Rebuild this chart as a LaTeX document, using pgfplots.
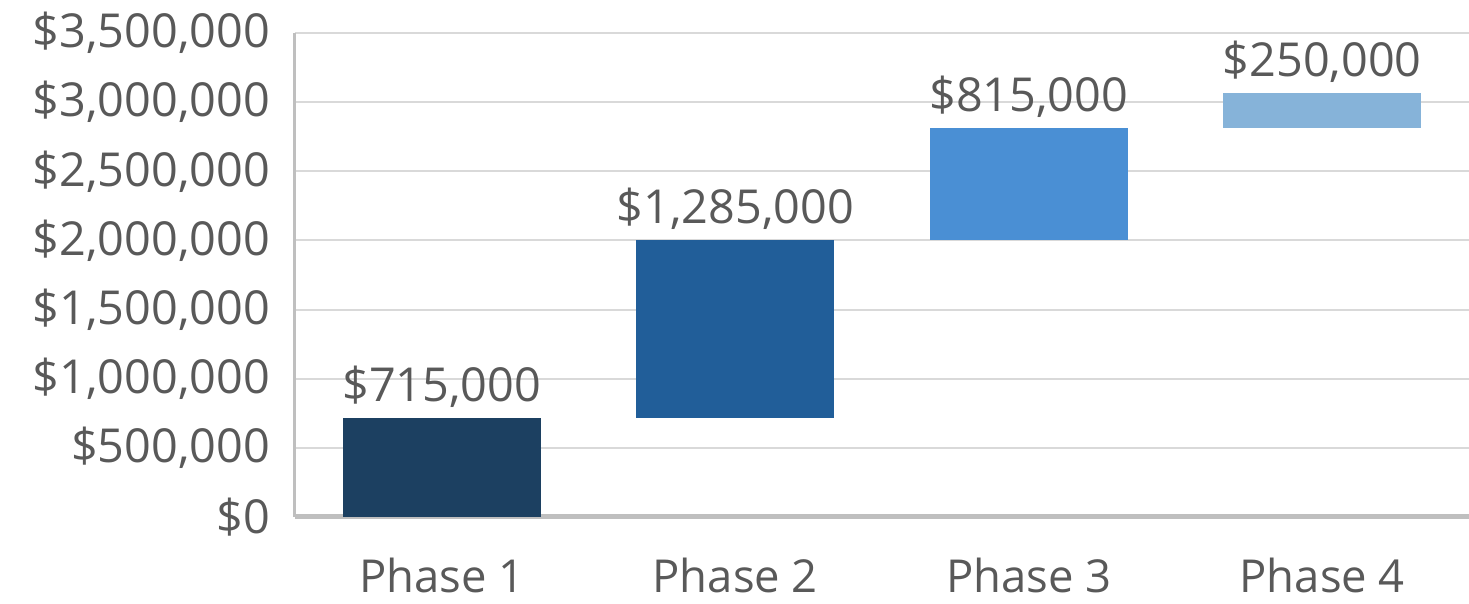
\documentclass[border=0pt]{standalone}
\usepackage{pgfplots}
\pgfplotsset{compat=1.18}
\usepackage{fontspec}
\setmainfont{Open Sans}
\definecolor{txt}{HTML}{595959}
\definecolor{gridc}{HTML}{D9D9D9}
\definecolor{axc}{HTML}{BFBFBF}
\definecolor{cA}{HTML}{1C4061}
\definecolor{cB}{HTML}{215E99}
\definecolor{cC}{HTML}{4A8FD4}
\definecolor{cD}{HTML}{86B3D9}
\begin{document}
\begin{tikzpicture}
\path[use as bounding box] (-147.5pt,-43.5pt) rectangle (587pt,258.5pt);
\begin{axis}[
  at={(0,0)}, anchor=south west,
  scale only axis, width=587pt, height=242pt,
  ybar stacked, bar width=0.673,
  xmin=-0.5, xmax=3.5, ymin=0, ymax=3500000,
  xtick={0,1,2,3}, xticklabels={Phase 1,Phase 2,Phase 3,Phase 4},
  ytick={0,500000,1000000,1500000,2000000,2500000,3000000,3500000},
  yticklabels={{\$0},{\$500,000},{\$1,000,000},{\$1,500,000},{\$2,000,000},{\$2,500,000},{\$3,000,000},{\$3,500,000}},
  scaled y ticks=false,
  major tick length=0pt,
  axis x line*=bottom, axis y line*=left,
  axis line style={-},
  x axis line style={line width=2.5pt, color=axc},
  y axis line style={line width=1.5pt, color=axc},
  ymajorgrids, grid style={line width=1pt, color=gridc},
  tick label style={text=txt},
  yticklabel style={font=\fontsize{23.4}{28}\selectfont, xshift=-9pt},
  xticklabel style={font=\fontsize{22.7}{27}\selectfont, yshift=-17pt},
  nodes near coords style={font=\fontsize{23.4}{28}\selectfont, text=txt, anchor=south, inner sep=0pt, yshift=5pt},
]
\addplot[draw=none, fill=none] coordinates {(0,0) (1,715000) (2,2000000) (3,2815000)};
\addplot[draw=none, fill=cA] coordinates {(0,715000) (1,0) (2,0) (3,0)};
\addplot[draw=none, fill=cB] coordinates {(0,0) (1,1285000) (2,0) (3,0)};
\addplot[draw=none, fill=cC] coordinates {(0,0) (1,0) (2,815000) (3,0)};
\addplot[draw=none, fill=cD] coordinates {(0,0) (1,0) (2,0) (3,250000)};
\addplot[draw=none, fill=none, stacked ignores zero=false, nodes near coords, point meta=explicit symbolic]
  coordinates {(0,0) [\$715,000] (1,0) [\$1,285,000] (2,0) [\$815,000] (3,0) [\$250,000]};
\end{axis}
\end{tikzpicture}
\end{document}
